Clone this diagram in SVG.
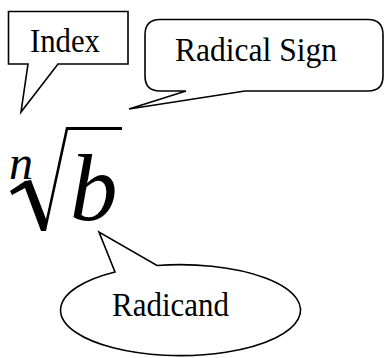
<svg xmlns="http://www.w3.org/2000/svg" width="384" height="358" viewBox="0 0 384 358">
<style>
.c{fill:#fff;stroke:#000;stroke-width:1.6;stroke-linejoin:miter}
.t{font-family:"Liberation Serif","Times New Roman",serif;font-size:34px;fill:#000}
.m{font-family:"Liberation Serif","Times New Roman",serif;font-style:italic;fill:#000}
</style>
<rect width="384" height="358" fill="#fff"/>
<g id="index">
<path class="c" d="M8.5,11.5 H128 V64 H58 L21,112 L28,64 H8.5 Z"/>
<text class="t" x="30" y="52" textLength="70" lengthAdjust="spacingAndGlyphs">Index</text>
</g>
<g id="radical-sign">
<path class="c" d="M160,19.5 H368 Q383,19.5 383,35 V76 Q383,91 368,91 H245 L129,109 L186,91 H160 Q145,91 145,76 V35 Q145,19.5 160,19.5 Z"/>
<text class="t" x="175" y="61" textLength="162" lengthAdjust="spacingAndGlyphs">Radical Sign</text>
</g>
<g id="radicand">
<path class="c" d="M157,265.5 A120,45.5 0 1 1 115,272 L99,232 Z"/>
<text class="t" x="112" y="316" textLength="117" lengthAdjust="spacingAndGlyphs">Radicand</text>
</g>
<g id="expression">
<path fill="#000" d="M10,191 L25,181 L31,180 L46,219 L66,127 L122,127 L122,130 L68,130 L46,231 L41,231 L25,188 L12,195 Z"/>
<text class="m" x="9" y="179" font-size="48">n</text>
<text class="m" x="70" y="220" font-size="95">b</text>
</g>
</svg>
